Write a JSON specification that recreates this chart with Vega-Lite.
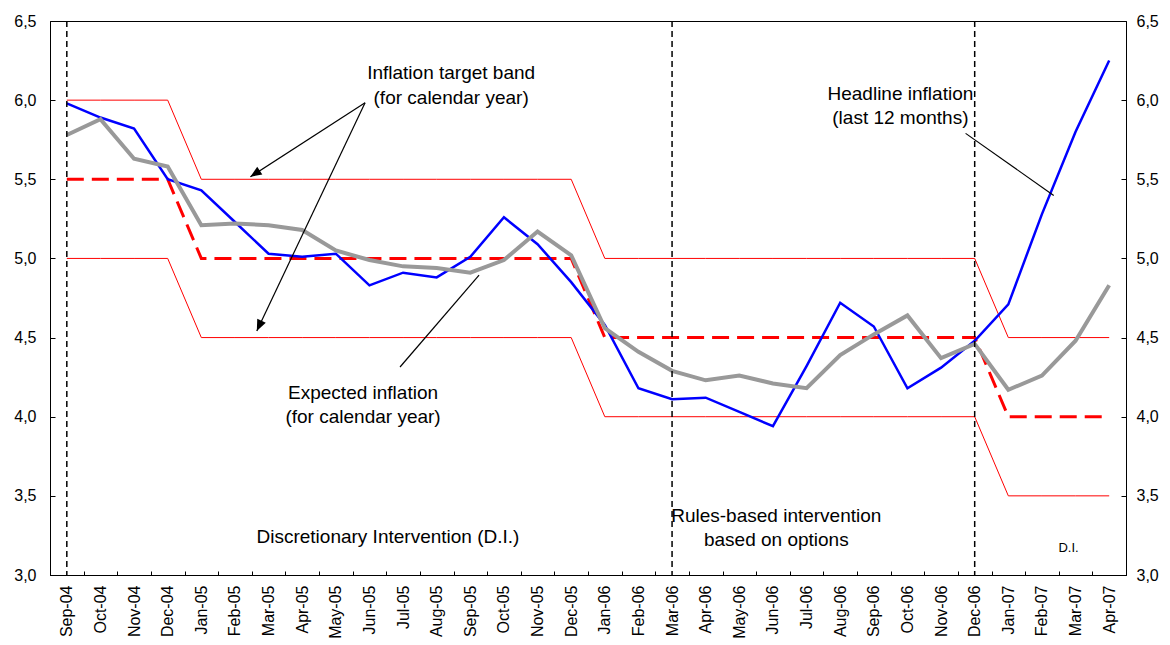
{
  "$schema": "https://vega.github.io/schema/vega-lite/v6.json",
  "width": 1076,
  "height": 554,
  "autosize": {"type": "none"},
  "padding": {"left": 50, "top": 21, "right": 44, "bottom": 70},
  "background": "white",
  "config": {
    "view": {"stroke": "black", "strokeWidth": 1},
    "font": "Liberation Sans",
    "axis": {"domainColor": "black", "tickColor": "black", "labelColor": "black", "grid": false, "labelFont": "Liberation Sans"}
  },
  "datasets": {
    "monthly": [
      {"month": "Sep-04", "headline": 5.98, "expected": 5.78, "upper": 6.0, "lower": 5.0, "target": 5.5},
      {"month": "Oct-04", "headline": 5.89, "expected": 5.88, "upper": 6.0, "lower": 5.0, "target": 5.5},
      {"month": "Nov-04", "headline": 5.82, "expected": 5.63, "upper": 6.0, "lower": 5.0, "target": 5.5},
      {"month": "Dec-04", "headline": 5.50, "expected": 5.58, "upper": 6.0, "lower": 5.0, "target": 5.5},
      {"month": "Jan-05", "headline": 5.43, "expected": 5.21, "upper": 5.5, "lower": 4.5, "target": 5.0},
      {"month": "Feb-05", "headline": 5.23, "expected": 5.22, "upper": 5.5, "lower": 4.5, "target": 5.0},
      {"month": "Mar-05", "headline": 5.03, "expected": 5.21, "upper": 5.5, "lower": 4.5, "target": 5.0},
      {"month": "Apr-05", "headline": 5.01, "expected": 5.18, "upper": 5.5, "lower": 4.5, "target": 5.0},
      {"month": "May-05", "headline": 5.03, "expected": 5.05, "upper": 5.5, "lower": 4.5, "target": 5.0},
      {"month": "Jun-05", "headline": 4.83, "expected": 4.99, "upper": 5.5, "lower": 4.5, "target": 5.0},
      {"month": "Jul-05", "headline": 4.91, "expected": 4.95, "upper": 5.5, "lower": 4.5, "target": 5.0},
      {"month": "Aug-05", "headline": 4.88, "expected": 4.94, "upper": 5.5, "lower": 4.5, "target": 5.0},
      {"month": "Sep-05", "headline": 5.01, "expected": 4.91, "upper": 5.5, "lower": 4.5, "target": 5.0},
      {"month": "Oct-05", "headline": 5.26, "expected": 4.99, "upper": 5.5, "lower": 4.5, "target": 5.0},
      {"month": "Nov-05", "headline": 5.09, "expected": 5.17, "upper": 5.5, "lower": 4.5, "target": 5.0},
      {"month": "Dec-05", "headline": 4.85, "expected": 5.02, "upper": 5.5, "lower": 4.5, "target": 5.0},
      {"month": "Jan-06", "headline": 4.58, "expected": 4.56, "upper": 5.0, "lower": 4.0, "target": 4.5},
      {"month": "Feb-06", "headline": 4.18, "expected": 4.41, "upper": 5.0, "lower": 4.0, "target": 4.5},
      {"month": "Mar-06", "headline": 4.11, "expected": 4.29, "upper": 5.0, "lower": 4.0, "target": 4.5},
      {"month": "Apr-06", "headline": 4.12, "expected": 4.23, "upper": 5.0, "lower": 4.0, "target": 4.5},
      {"month": "May-06", "headline": 4.03, "expected": 4.26, "upper": 5.0, "lower": 4.0, "target": 4.5},
      {"month": "Jun-06", "headline": 3.94, "expected": 4.21, "upper": 5.0, "lower": 4.0, "target": 4.5},
      {"month": "Jul-06", "headline": 4.32, "expected": 4.18, "upper": 5.0, "lower": 4.0, "target": 4.5},
      {"month": "Aug-06", "headline": 4.72, "expected": 4.39, "upper": 5.0, "lower": 4.0, "target": 4.5},
      {"month": "Sep-06", "headline": 4.57, "expected": 4.52, "upper": 5.0, "lower": 4.0, "target": 4.5},
      {"month": "Oct-06", "headline": 4.18, "expected": 4.64, "upper": 5.0, "lower": 4.0, "target": 4.5},
      {"month": "Nov-06", "headline": 4.31, "expected": 4.37, "upper": 5.0, "lower": 4.0, "target": 4.5},
      {"month": "Dec-06", "headline": 4.48, "expected": 4.46, "upper": 5.0, "lower": 4.0, "target": 4.5},
      {"month": "Jan-07", "headline": 4.71, "expected": 4.17, "upper": 4.5, "lower": 3.5, "target": 4.0},
      {"month": "Feb-07", "headline": 5.28, "expected": 4.26, "upper": 4.5, "lower": 3.5, "target": 4.0},
      {"month": "Mar-07", "headline": 5.80, "expected": 4.48, "upper": 4.5, "lower": 3.5, "target": 4.0},
      {"month": "Apr-07", "headline": 6.25, "expected": 4.83, "upper": 4.5, "lower": 3.5, "target": 4.0}
    ],
    "vlines": [{"idx": 0}, {"idx": 18}, {"idx": 27}],
    "labels": [
      {"x": 11.43, "y": 6.17, "text": "Inflation target band"},
      {"x": 11.43, "y": 6.015, "text": "(for calendar year)"},
      {"x": 24.79, "y": 6.04, "text": "Headline inflation"},
      {"x": 24.79, "y": 5.887, "text": "(last 12 months)"},
      {"x": 8.81, "y": 4.15, "text": "Expected inflation"},
      {"x": 8.81, "y": 3.998, "text": "(for calendar year)"},
      {"x": 9.55, "y": 3.24, "text": "Discretionary Intervention (D.I.)"},
      {"x": 21.1, "y": 3.373, "text": "Rules-based intervention"},
      {"x": 21.1, "y": 3.221, "text": "based on options"}
    ],
    "small": [{"x": 29.79, "y": 3.171, "text": "D.I."}],
    "leaders": [
      {"id": "a1", "k": 0, "x": 8.87, "y": 5.984},
      {"id": "a1", "k": 1, "x": 5.46, "y": 5.516},
      {"id": "a2", "k": 0, "x": 8.87, "y": 5.984},
      {"id": "a2", "k": 1, "x": 5.65, "y": 4.542},
      {"id": "e", "k": 0, "x": 12.26, "y": 4.895},
      {"id": "e", "k": 1, "x": 9.91, "y": 4.314},
      {"id": "h", "k": 0, "x": 26.73, "y": 5.79},
      {"id": "h", "k": 1, "x": 29.35, "y": 5.398}
    ],
    "heads": [
      {"id": "a1", "x": 5.46, "y": 5.516},
      {"id": "a2", "x": 5.65, "y": 4.542}
    ]
  },
  "layer": [
    {
      "data": {"name": "monthly"},
      "encoding": {
        "x": {
          "field": "month", "type": "ordinal",
          "scale": {"type": "band", "paddingInner": 0, "paddingOuter": 0,
            "domain": ["Sep-04","Oct-04","Nov-04","Dec-04","Jan-05","Feb-05","Mar-05","Apr-05","May-05","Jun-05","Jul-05","Aug-05","Sep-05","Oct-05","Nov-05","Dec-05","Jan-06","Feb-06","Mar-06","Apr-06","May-06","Jun-06","Jul-06","Aug-06","Sep-06","Oct-06","Nov-06","Dec-06","Jan-07","Feb-07","Mar-07","Apr-07"]},
          "axis": {"title": null, "labelAngle": -90, "labelFontSize": 16, "tickBand": "extent", "tickSize": -4, "labelPadding": 14, "domainWidth": 1}
        }
      },
      "layer": [
        {
          "mark": {"type": "line", "color": "#ff0000", "strokeWidth": 1},
          "encoding": {"y": {"field": "upper", "type": "quantitative", "scale": {"domain": [3, 6.5], "nice": false, "zero": false},
            "axis": {"title": null, "values": [3, 3.5, 4, 4.5, 5, 5.5, 6, 6.5], "format": ".1f", "labelExpr": "replace(datum.label, '.', ',')", "labelFontSize": 16, "tickSize": -5, "labelPadding": 19}}}
        },
        {
          "mark": {"type": "line", "color": "#ff0000", "strokeWidth": 1},
          "encoding": {"y": {"field": "lower", "type": "quantitative"}}
        },
        {
          "mark": {"type": "line", "color": "#ff0000", "strokeWidth": 3, "strokeDash": [17, 8]},
          "encoding": {"y": {"field": "target", "type": "quantitative"}}
        },
        {
          "mark": {"type": "line", "color": "#0000ff", "strokeWidth": 2.5},
          "encoding": {"y": {"field": "headline", "type": "quantitative"}}
        },
        {
          "mark": {"type": "line", "color": "#999999", "strokeWidth": 4},
          "encoding": {"y": {"field": "expected", "type": "quantitative"}}
        }
      ]
    },
    {
      "layer": [
        {
          "data": {"name": "vlines"},
          "mark": {"type": "rule", "color": "black", "strokeWidth": 1.5, "strokeDash": [6, 4]},
          "encoding": {"x": {"field": "idx", "type": "quantitative", "scale": {"domain": [-0.5, 31.5], "nice": false, "zero": false}, "axis": null}}
        },
        {
          "data": {"name": "leaders"},
          "mark": {"type": "line", "color": "black", "strokeWidth": 1.2},
          "encoding": {
            "x": {"field": "x", "type": "quantitative"},
            "y": {"field": "y", "type": "quantitative", "axis": null},
            "detail": {"field": "id"},
            "order": {"field": "k"}
          }
        },
        {
          "data": {"name": "heads"},
          "transform": [{"filter": "datum.id == 'a1'"}],
          "mark": {"type": "point", "shape": "M0,0L-0.42,1L0.42,1Z", "filled": true, "color": "black", "opacity": 1, "size": 500, "angle": 237},
          "encoding": {"x": {"field": "x", "type": "quantitative"}, "y": {"field": "y", "type": "quantitative", "axis": null}}
        },
        {
          "data": {"name": "heads"},
          "transform": [{"filter": "datum.id == 'a2'"}],
          "mark": {"type": "point", "shape": "M0,0L-0.42,1L0.42,1Z", "filled": true, "color": "black", "opacity": 1, "size": 500, "angle": 205},
          "encoding": {"x": {"field": "x", "type": "quantitative"}, "y": {"field": "y", "type": "quantitative", "axis": null}}
        },
        {
          "data": {"name": "labels"},
          "mark": {"type": "text", "font": "Liberation Sans", "fontSize": 19, "color": "black", "align": "center", "baseline": "middle"},
          "encoding": {"x": {"field": "x", "type": "quantitative"}, "y": {"field": "y", "type": "quantitative", "axis": null}, "text": {"field": "text"}}
        },
        {
          "data": {"name": "small"},
          "mark": {"type": "text", "font": "Liberation Sans", "fontSize": 13, "color": "black", "align": "center", "baseline": "middle"},
          "encoding": {"x": {"field": "x", "type": "quantitative"}, "y": {"field": "y", "type": "quantitative", "axis": null}, "text": {"field": "text"}}
        }
      ]
    },
    {
      "data": {"name": "monthly"},
      "mark": {"type": "point", "opacity": 0},
      "encoding": {
        "y": {"field": "upper", "type": "quantitative",
          "axis": {"orient": "right", "title": null, "values": [3, 3.5, 4, 4.5, 5, 5.5, 6, 6.5], "format": ".1f", "labelExpr": "replace(datum.label, '.', ',')", "labelFontSize": 16, "tickSize": -5, "labelPadding": 15}}
      }
    }
  ],
  "resolve": {"scale": {"x": "independent"}, "axis": {"y": "independent"}}
}
